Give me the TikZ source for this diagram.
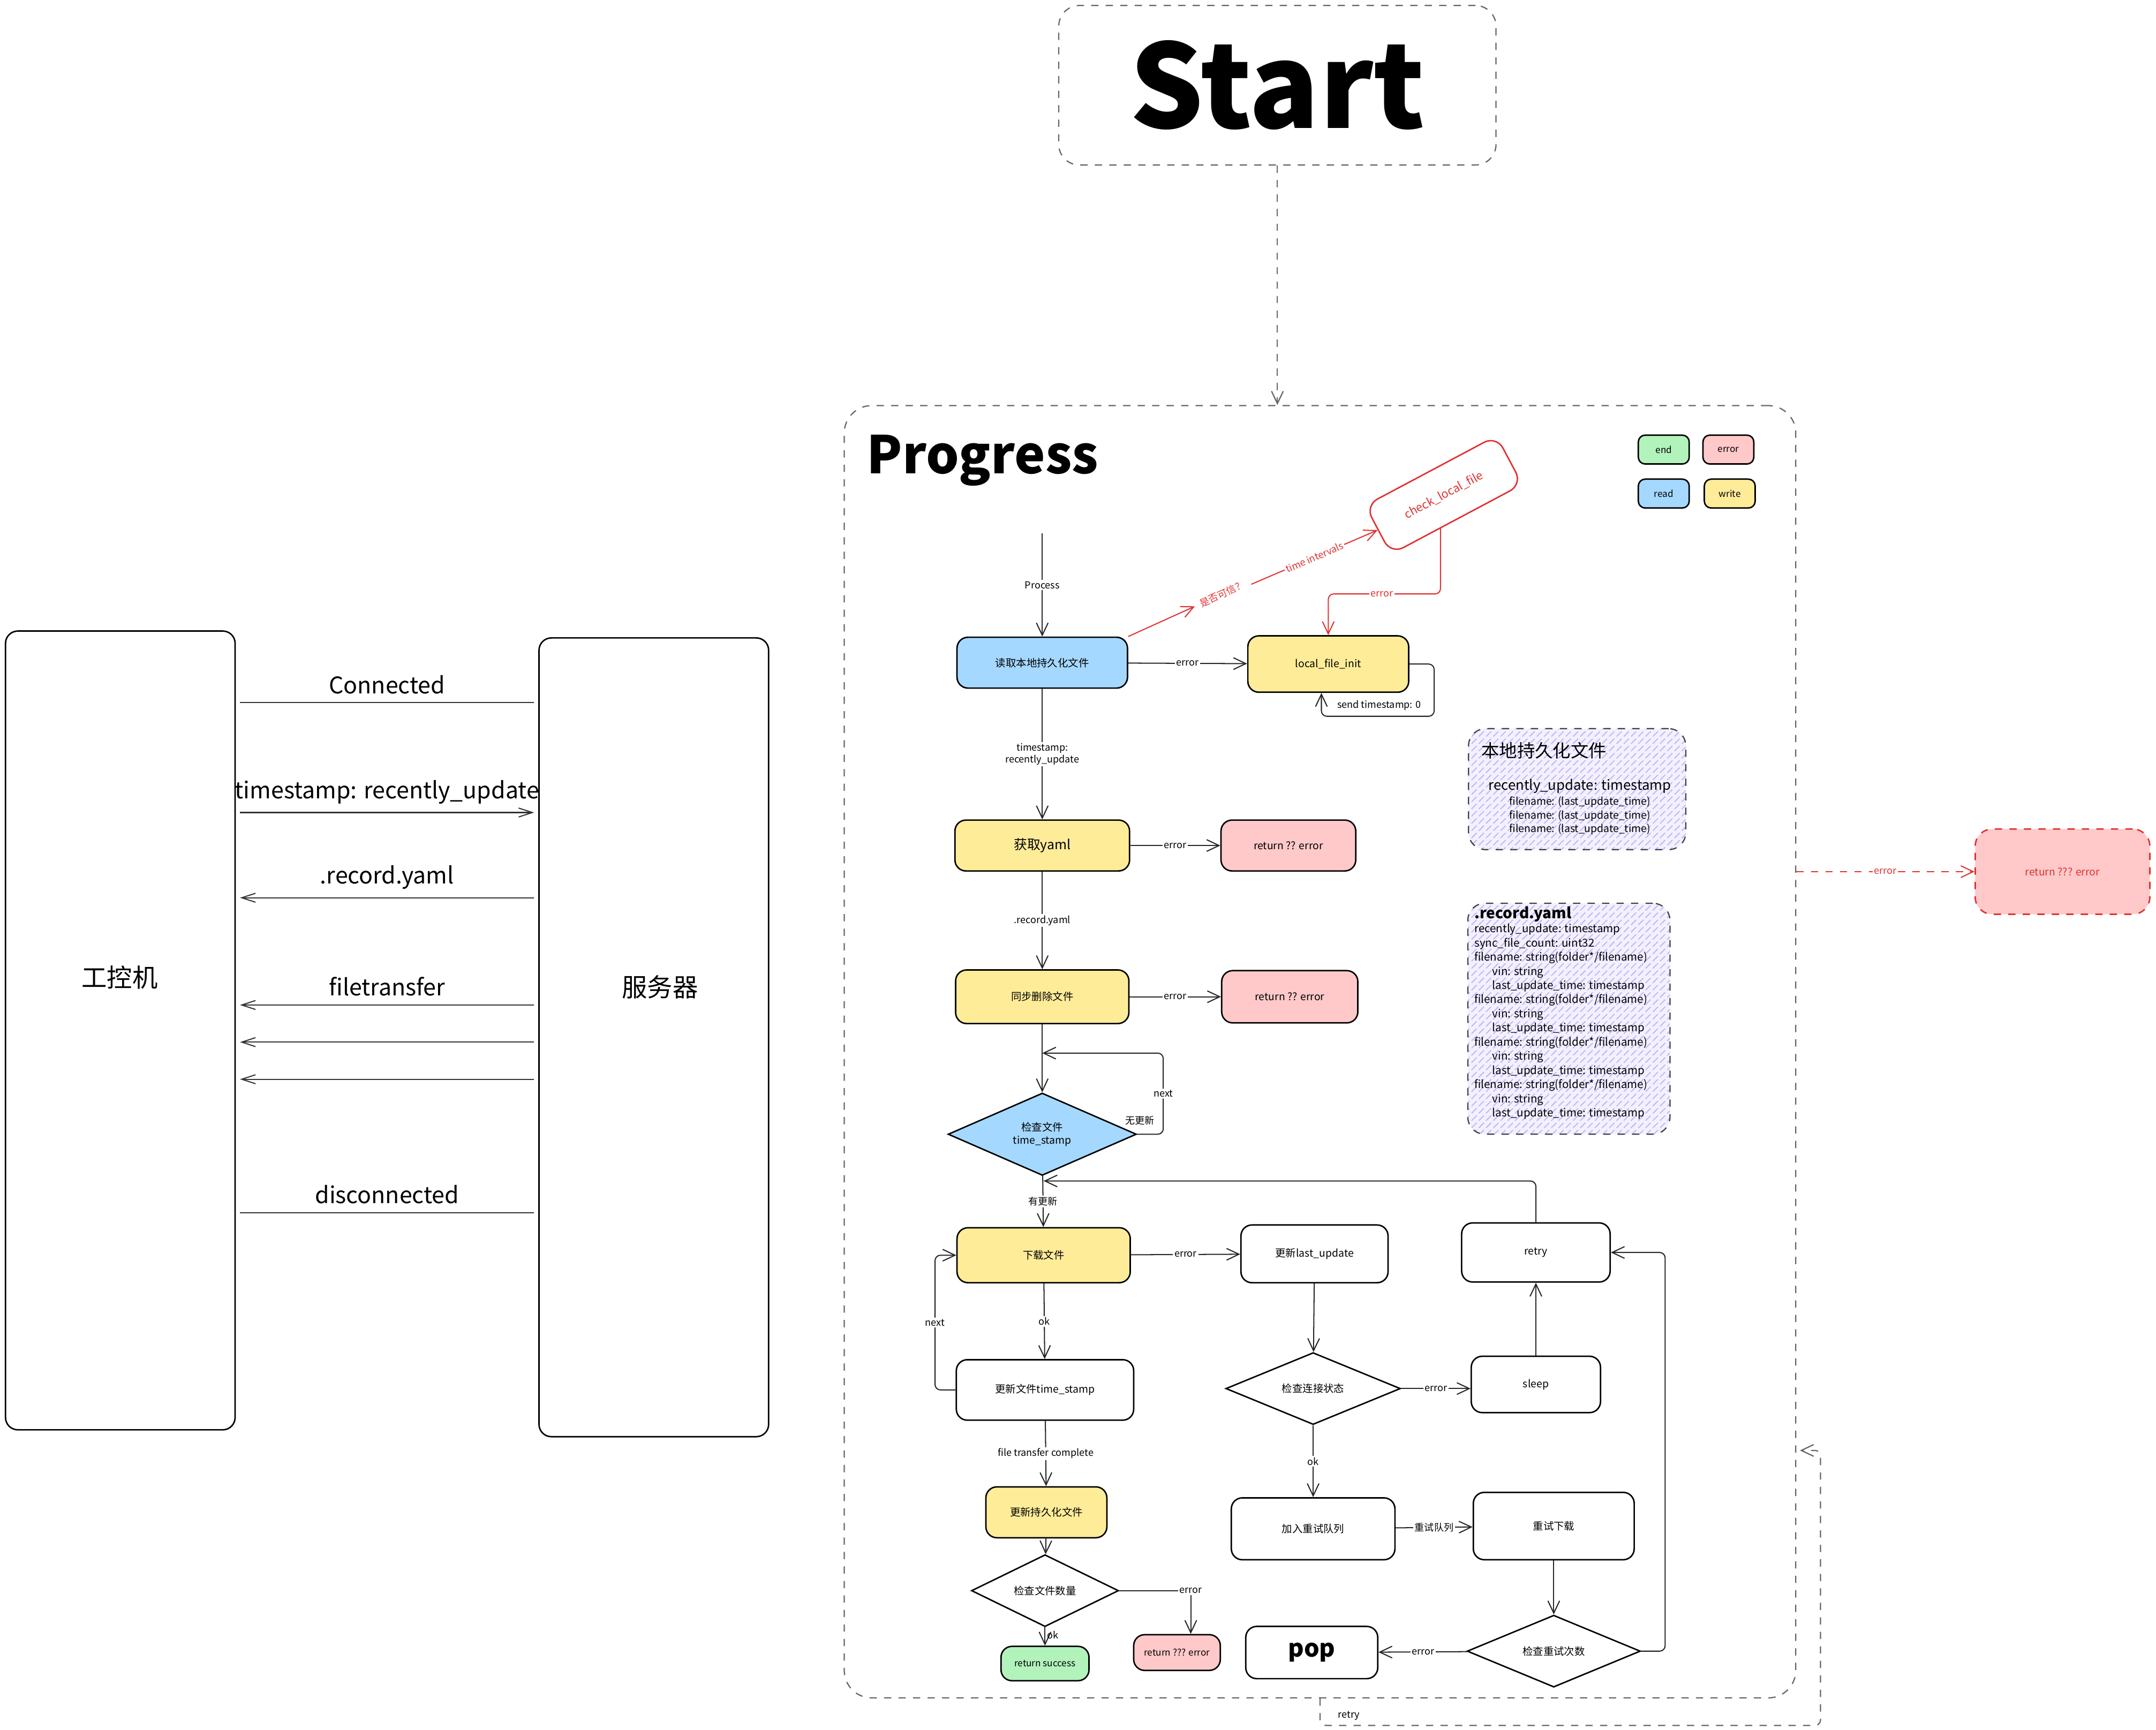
\documentclass[tikz,border=0pt]{standalone}
\usepackage{fontspec}
\setmainfont{Noto Sans CJK SC}
\usetikzlibrary{arrows.meta,shapes.geometric,patterns}

\definecolor{readblue}{HTML}{A5D8FF}
\definecolor{writeyellow}{HTML}{FFEC99}
\definecolor{errorpink}{HTML}{FFC9C9}
\definecolor{endgreen}{HTML}{B2F2BB}
\definecolor{notefill}{HTML}{F3F0FF}
\definecolor{notehatch}{HTML}{C2B2F7}
\definecolor{alertred}{HTML}{E03131}

\begin{document}
\begin{tikzpicture}[
		x=0.2mm, y=-0.2mm,
		>={Straight Barb[length=1.8mm,width=1.7mm]},
		flownode/.style={
		% The shape:
		rectangle, rounded corners=1.6mm,
		% The border:
		draw=black, line width=0.6pt,
		% The filling:
		fill=white,
		% Font
		font=\fontsize{4.3}{5.4}\selectfont, inner sep=0.5pt, align=center
		},
		readnode/.style={flownode, fill=readblue},
		writenode/.style={flownode, fill=writeyellow},
		errornode/.style={flownode, fill=errorpink},
		endnode/.style={flownode, fill=endgreen},
		checknode/.style={
		% The shape:
		diamond, inner sep=0pt,
		% The border:
		draw=black, line width=0.6pt,
		% The filling:
		fill=white,
		% Font
		font=\fontsize{4.3}{5.4}\selectfont, align=center
		},
		legendnode/.style={flownode, minimum width=7.4mm, minimum height=4.2mm, rounded corners=1mm, font=\fontsize{3.8}{4.5}\selectfont},
		notenode/.style={
		% The shape:
		rectangle, rounded corners=2.5mm,
		% The border:
		draw=black!75, dashed, line width=0.5pt,
		% The filling:
		preaction={fill=notefill}, pattern=north east lines, pattern color=notehatch
		},
		hostnode/.style={rectangle, rounded corners=1.8mm, draw=black, line width=0.6pt, minimum width=33.4mm, minimum height=116.2mm},
		hosttext/.style={font=\fontsize{10.5}{12}\selectfont},
		msgline/.style={draw=black!80, line width=0.45pt, shorten <=0.6mm, shorten >=0.6mm, >={Straight Barb[length=2mm,width=1.3mm]}},
		msgtext/.style={above=1.2mm, font=\fontsize{9.5}{11}\selectfont, inner sep=0pt},
		flowline/.style={draw=black!85, line width=0.45pt},
		edgetext/.style={fill=white, inner sep=0.6pt, font=\fontsize{4}{4.9}\selectfont, align=center},
		dashline/.style={draw=black!60, dashed, line width=0.5pt},
		redline/.style={draw=alertred, line width=0.45pt},
		redtext/.style={text=alertred, inner sep=0.6pt, font=\fontsize{4}{4.9}\selectfont}
	]
	\useasboundingbox (0,0) rectangle (1568,1258);

	% left: 工控机 and 服务器
	\node (PLC)[hostnode] at (87.5,749.5) {};
	\node (SRV)[hostnode] at (475.5,754.5) {};
	\node (PLCT)[hosttext] at (87,711) {工控机};
	\node (SRVT)[hosttext] at (480,718) {服务器};

	\coordinate (M1) at (0,511);
	\coordinate (M2) at (0,591);
	\coordinate (M3) at (0,653);
	\coordinate (M4) at (0,731);
	\coordinate (M5) at (0,758);
	\coordinate (M6) at (0,785);
	\coordinate (M7) at (0,882);

	\draw [msgline] (PLC.east |- M1) -- node[msgtext] {Connected} (SRV.west |- M1);
	\draw [msgline, ->] (PLC.east |- M2) -- node[msgtext] {timestamp: recently\_update} (SRV.west |- M2);
	\draw [msgline, <-] (PLC.east |- M3) -- node[msgtext] {.record.yaml} (SRV.west |- M3);
	\draw [msgline, <-] (PLC.east |- M4) -- node[msgtext] {filetransfer} (SRV.west |- M4);
	\draw [msgline, <-] (PLC.east |- M5) -- (SRV.west |- M5);
	\draw [msgline, <-] (PLC.east |- M6) -- (SRV.west |- M6);
	\draw [msgline] (PLC.east |- M7) -- node[msgtext] {disconnected} (SRV.west |- M7);

	% right: Start and Progress
	\node (START)[rectangle, rounded corners=3mm, draw=black!60, dashed, line width=0.5pt, minimum width=63.6mm, minimum height=23.2mm, font=\fontsize{48}{52}\selectfont\bfseries] at (929,62) {Start};
	\node (PROG)[rectangle, rounded corners=4mm, draw=black!60, dashed, line width=0.5pt, minimum width=138.4mm, minimum height=188mm] at (960,765) {};
	\draw [dashline, ->] (START.south) -- (START.south |- PROG.north);
	\node (TITLE)[anchor=west, inner sep=0pt, font=\fontsize{21.5}{24}\selectfont\bfseries] at (630,335) {Progress};

	% legend
	\node (LEND)[legendnode, fill=endgreen] at (1210,327) {end};
	\node (LERR)[legendnode, fill=errorpink] at (1257,327) {error};
	\node (LREAD)[legendnode, fill=readblue] at (1210,359) {read};
	\node (LWRITE)[legendnode, fill=writeyellow] at (1258,359) {write};

	% main flow
	\coordinate (PIN) at (758,388);
	\node (READ)[readnode, minimum width=24.8mm, minimum height=7.4mm] at (758,482) {读取本地持久化文件};
	\node (INIT)[writenode, minimum width=23.4mm, minimum height=8.2mm] at (966,483) {local\_file\_init};
	\node (CHK)[flownode, draw=alertred, text=alertred, rotate=28, rounded corners=2mm, minimum width=21.6mm, minimum height=8mm, font=\fontsize{4.8}{5.6}\selectfont] at (1050,360) {check\_local\_file};
	\node (GETY)[writenode, minimum width=25.4mm, minimum height=7.4mm, font=\fontsize{5.5}{6.5}\selectfont] at (758,615) {获取yaml};
	\node (RET1)[errornode, minimum width=19.6mm, minimum height=7.4mm] at (937,615) {return ?? error};
	\node (SYNC)[writenode, minimum width=25.2mm, minimum height=7.8mm] at (758,725) {同步删除文件};
	\node (RET2)[errornode, minimum width=19.8mm, minimum height=7.6mm] at (938,725) {return ?? error};
	\node (CHKTS)[checknode, fill=readblue, minimum width=27.4mm, minimum height=9.2mm] at (758,825) {检查文件\\time\_stamp};
	\node (DL)[writenode, minimum width=25.2mm, minimum height=8mm] at (759,913) {下载文件};
	\node (ULU)[flownode, minimum width=21.4mm, minimum height=8.4mm] at (956,912) {更新last\_update};
	\node (RETRY)[flownode, minimum width=21.6mm, minimum height=8.6mm] at (1117,911) {retry};
	\node (UPTS)[flownode, minimum width=25.8mm, minimum height=8.8mm] at (760,1011) {更新文件time\_stamp};
	\node (CONN)[checknode, minimum width=25.4mm, minimum height=9.2mm] at (955,1010) {检查连接状态};
	\node (SLEEP)[flownode, minimum width=18.8mm, minimum height=8.2mm] at (1117,1007) {sleep};
	\node (UPF)[writenode, minimum width=17.6mm, minimum height=7.4mm] at (761,1100) {更新持久化文件};
	\node (QUEUE)[flownode, minimum width=23.8mm, minimum height=9mm] at (955,1112) {加入重试队列};
	\node (REDL)[flownode, minimum width=23.4mm, minimum height=9.8mm] at (1130,1110) {重试下载};
	\node (CHKN)[checknode, minimum width=21.4mm, minimum height=9mm] at (760,1157) {检查文件数量};
	\node (CHKR)[checknode, minimum width=25.2mm, minimum height=8.4mm] at (1130,1201) {检查重试次数};
	\node (POP)[flownode, minimum width=19.2mm, minimum height=7.6mm, font=\fontsize{10}{11}\selectfont\bfseries] at (954,1202) {pop};
	\node (RET3)[errornode, minimum width=12.6mm, minimum height=5.2mm, font=\fontsize{3.8}{4.5}\selectfont] at (856,1202) {return ??? error};
	\node (SUCC)[endnode, minimum width=12.8mm, minimum height=5mm, font=\fontsize{3.8}{4.5}\selectfont] at (760,1210) {return success};

	% notes
	\node (NOTE1)[notenode, minimum width=31.6mm, minimum height=17.6mm] at (1147,574) {};
	\node (NOTE1T)[anchor=west, inner sep=0pt, font=\fontsize{7.4}{8.5}\selectfont] at (1077,546) {本地持久化文件};
	\node (NOTE1B)[align=center, inner sep=0pt, font=\fontsize{4.3}{5.6}\selectfont] at (1149,587) {{\fontsize{5.7}{7}\selectfont recently\_update: timestamp}\\[0.6pt] filename: (last\_update\_time)\\ filename: (last\_update\_time)\\ filename: (last\_update\_time)};
	\node (NOTE2)[notenode, minimum width=29.4mm, minimum height=33.6mm] at (1141,741) {};
	\node (NOTE2B)[anchor=north west, align=left, inner sep=0pt, font=\fontsize{4.55}{5.86}\selectfont] at (1072,659) {{\fontsize{6.2}{7}\selectfont\bfseries .record.yaml}\\
		recently\_update: timestamp\\
		sync\_file\_count: uint32\\
		filename: string(folder*/filename)\\
		\hspace{2.6mm}vin: string\\
		\hspace{2.6mm}last\_update\_time: timestamp\\
		filename: string(folder*/filename)\\
		\hspace{2.6mm}vin: string\\
		\hspace{2.6mm}last\_update\_time: timestamp\\
		filename: string(folder*/filename)\\
		\hspace{2.6mm}vin: string\\
		\hspace{2.6mm}last\_update\_time: timestamp\\
		filename: string(folder*/filename)\\
		\hspace{2.6mm}vin: string\\
		\hspace{2.6mm}last\_update\_time: timestamp};

	\node (RETX)[errornode, draw=alertred, dashed, text=alertred, rounded corners=2.5mm, minimum width=25.4mm, minimum height=12.4mm] at (1500,634) {return ??? error};

	% connectors
	\draw [flowline, ->] (PIN) -- node[edgetext] {Process} (READ);
	\draw [flowline, ->] (READ) -- node[edgetext] {error} (INIT);
	\coordinate (L1) at (1043,521);
	\draw [flowline, ->, rounded corners=0.8mm] (INIT.east) -| (L1) -| ([xshift=-1mm]INIT.south);
	\node (SENDT)[edgetext, fill=none] at (1003,513) {send timestamp: 0};

	\coordinate (Q1) at (869,441);
	\coordinate (Q2) at (910,425);
	\draw [redline, ->] (READ.north east) -- (Q1);
	\node (TRUST)[redtext, rotate=25] at (889,432) {是否可信？};
	\draw [redline, ->] (Q2) -- node[redtext, sloped, fill=white] {time intervals} (CHK.west);
	\coordinate (E1) at (1005,432);
	\draw [redline, ->, rounded corners=0.8mm] ([xshift=-2.4mm,yshift=-1.1mm]CHK.south) |- (E1) node[redtext, fill=white] {error} -| (INIT.north);

	\draw [flowline, ->] (READ) -- node[edgetext] {timestamp:\\recently\_update} (GETY);
	\draw [flowline, ->] (GETY) -- node[edgetext] {error} (RET1);
	\draw [flowline, ->] (GETY) -- node[edgetext] {.record.yaml} (SYNC);
	\draw [flowline, ->] (SYNC) -- node[edgetext] {error} (RET2);
	\draw [flowline, ->] (SYNC) -- (CHKTS);
	\coordinate (J1) at (758,766);
	\coordinate (N1) at (846,766);
	\draw [flowline, ->, rounded corners=0.8mm] (CHKTS.east) -| node[edgetext, pos=0.75] {next} (N1) -- (J1);
	\node (NOUPD)[edgetext, fill=none] at (829,815) {无更新};
	\draw [flowline, ->] (CHKTS) -- node[edgetext] {有更新} (DL);

	\coordinate (J2) at (759,859);
	\draw [flowline, ->, rounded corners=0.8mm] (RETRY.north) |- (J2);
	\draw [flowline, ->] (DL) -- node[edgetext] {error} (ULU);
	\draw [flowline, ->] (DL) -- node[edgetext] {ok} (UPTS);
	\coordinate (N2) at (680,962);
	\draw [flowline, ->, rounded corners=0.8mm] (UPTS.west) -| (N2) node[edgetext] {next} |- (DL.west);
	\draw [flowline, ->] (UPTS) -- node[edgetext] {file transfer complete} (UPF);
	\draw [flowline, ->] (UPF) -- (CHKN);
	\draw [flowline, ->] (CHKN.east) -| node[edgetext] {error} ([xshift=2mm]RET3.north);
	\draw [flowline, ->] (CHKN) -- node[edgetext, fill=none, right, pos=0.4] {ok} (SUCC);

	\draw [flowline, ->] (ULU) -- (CONN);
	\draw [flowline, ->] (CONN) -- node[edgetext] {error} (CONN -| SLEEP.west);
	\draw [flowline, ->] (SLEEP) -- (RETRY);
	\draw [flowline, ->] (CONN) -- node[edgetext] {ok} (QUEUE);
	\draw [flowline, ->] (QUEUE) -- node[edgetext] {重试队列} (REDL);
	\draw [flowline, ->] (REDL) -- (CHKR);
	\draw [flowline, ->] (CHKR) -- node[edgetext] {error} (POP);
	\coordinate (R1) at (1211,1050);
	\draw [flowline, ->, rounded corners=0.8mm] (CHKR.east) -| (R1) |- (RETRY.east);

	% outside the frame
	\coordinate (R2) at (1324,1255);
	\coordinate (R3) at (1309,1055);
	\draw [dashline, ->, rounded corners=0.8mm] (PROG.south) |- (R2) |- (R3);
	\node (RETRYT)[edgetext, fill=none] at (981,1248) {retry};
	\draw [redline, dashed, ->] (PROG.east |- RETX) -- node[redtext, fill=white] {error} (RETX);
\end{tikzpicture}
\end{document}
